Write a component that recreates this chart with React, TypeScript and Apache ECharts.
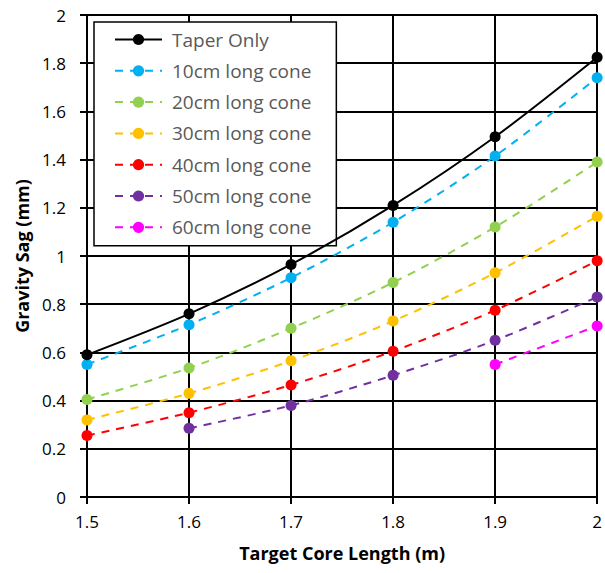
import React, { useEffect, useRef } from "react";
import * as echarts from "echarts";

const xValues = [1.5, 1.6, 1.7, 1.8, 1.9, 2.0];
const taperOnly = [0.59, 0.76, 0.965, 1.21, 1.495, 1.825];
const cone10 = [0.55, 0.715, 0.91, 1.14, 1.415, 1.74];
const cone20 = [0.405, 0.535, 0.7, 0.89, 1.12, 1.39];
const cone30 = [0.32, 0.43, 0.565, 0.73, 0.93, 1.165];
const cone40 = [0.255, 0.35, 0.465, 0.605, 0.775, 0.98];
const cone50 = [null, 0.285, 0.38, 0.505, 0.65, 0.83];
const cone60 = [null, null, null, null, 0.55, 0.71];

const seriesNames = [
  "Taper Only",
  "10cm long cone",
  "20cm long cone",
  "30cm long cone",
  "40cm long cone",
  "50cm long cone",
  "60cm long cone",
];
const seriesData = [taperOnly, cone10, cone20, cone30, cone40, cone50, cone60];
const colors = ["#000000", "#00B0F0", "#92D050", "#FFC000", "#FF0000", "#7030A0", "#FF00FF"];

export default function App() {
  const ref = useRef<HTMLDivElement>(null);
  useEffect(() => {
    if (!ref.current) return;
    const chart = echarts.init(ref.current, undefined, { renderer: "svg" });
    const font = "'Open Sans', 'Noto Sans', sans-serif";
    chart.setOption({
      animation: false,
      textStyle: { fontFamily: font },
      grid: { left: 87, right: 5, top: 15, bottom: 76, containLabel: false },
      legend: {
        orient: "vertical",
        left: 94,
        top: 22,
        backgroundColor: "#ffffff",
        borderColor: "#000000",
        borderWidth: 1.5,
        borderRadius: 0,
        padding: [8, 25, 9, 20],
        itemWidth: 47,
        itemHeight: 14,
        itemGap: 12.3,
        textStyle: {
          fontSize: 19,
          lineHeight: 19,
          color: "#595959",
          fontFamily: font,
          padding: [0, 0, 0, 5],
        },
        data: seriesNames,
      },
      xAxis: {
        type: "value",
        min: 1.5,
        max: 2,
        interval: 0.1,
        name: "Target Core Length (m)",
        nameLocation: "middle",
        nameGap: 47,
        nameTextStyle: { fontSize: 18, fontWeight: "bold", color: "#000", fontFamily: font },
        axisLine: { show: true, lineStyle: { color: "#000", width: 2 } },
        axisTick: { show: true, length: 7, lineStyle: { color: "#000", width: 2 } },
        axisLabel: { fontSize: 17, color: "#000", margin: 16 },
        splitLine: { show: true, lineStyle: { color: "#000", width: 2 } },
      },
      yAxis: {
        type: "value",
        min: 0,
        max: 2,
        interval: 0.2,
        name: "Gravity Sag (mm)",
        nameLocation: "middle",
        nameGap: 54,
        nameTextStyle: { fontSize: 18, fontWeight: "bold", color: "#000", fontFamily: font },
        axisLine: { show: true, lineStyle: { color: "#000", width: 2 } },
        axisTick: { show: true, length: 7, lineStyle: { color: "#000", width: 2 } },
        axisLabel: { fontSize: 17, color: "#000", margin: 21 },
        splitLine: { show: true, lineStyle: { color: "#000", width: 2 } },
      },
      series: seriesNames.map((name, i) => ({
        name,
        type: "line",
        data: xValues.map((x, j) => [x, seriesData[i][j]]),
        connectNulls: false,
        smooth: 0.3,
        symbol: "circle",
        symbolSize: 11,
        itemStyle: { color: colors[i] },
        lineStyle: {
          color: colors[i],
          width: 2,
          type: i === 0 ? "solid" : [8, 7],
        },
        z: 10 - i,
      })),
    });
    return () => chart.dispose();
  }, []);
  return (
    <div
      ref={ref}
      style={{ position: "fixed", left: 0, top: 0, width: 605, height: 573, background: "#fff" }}
    />
  );
}
